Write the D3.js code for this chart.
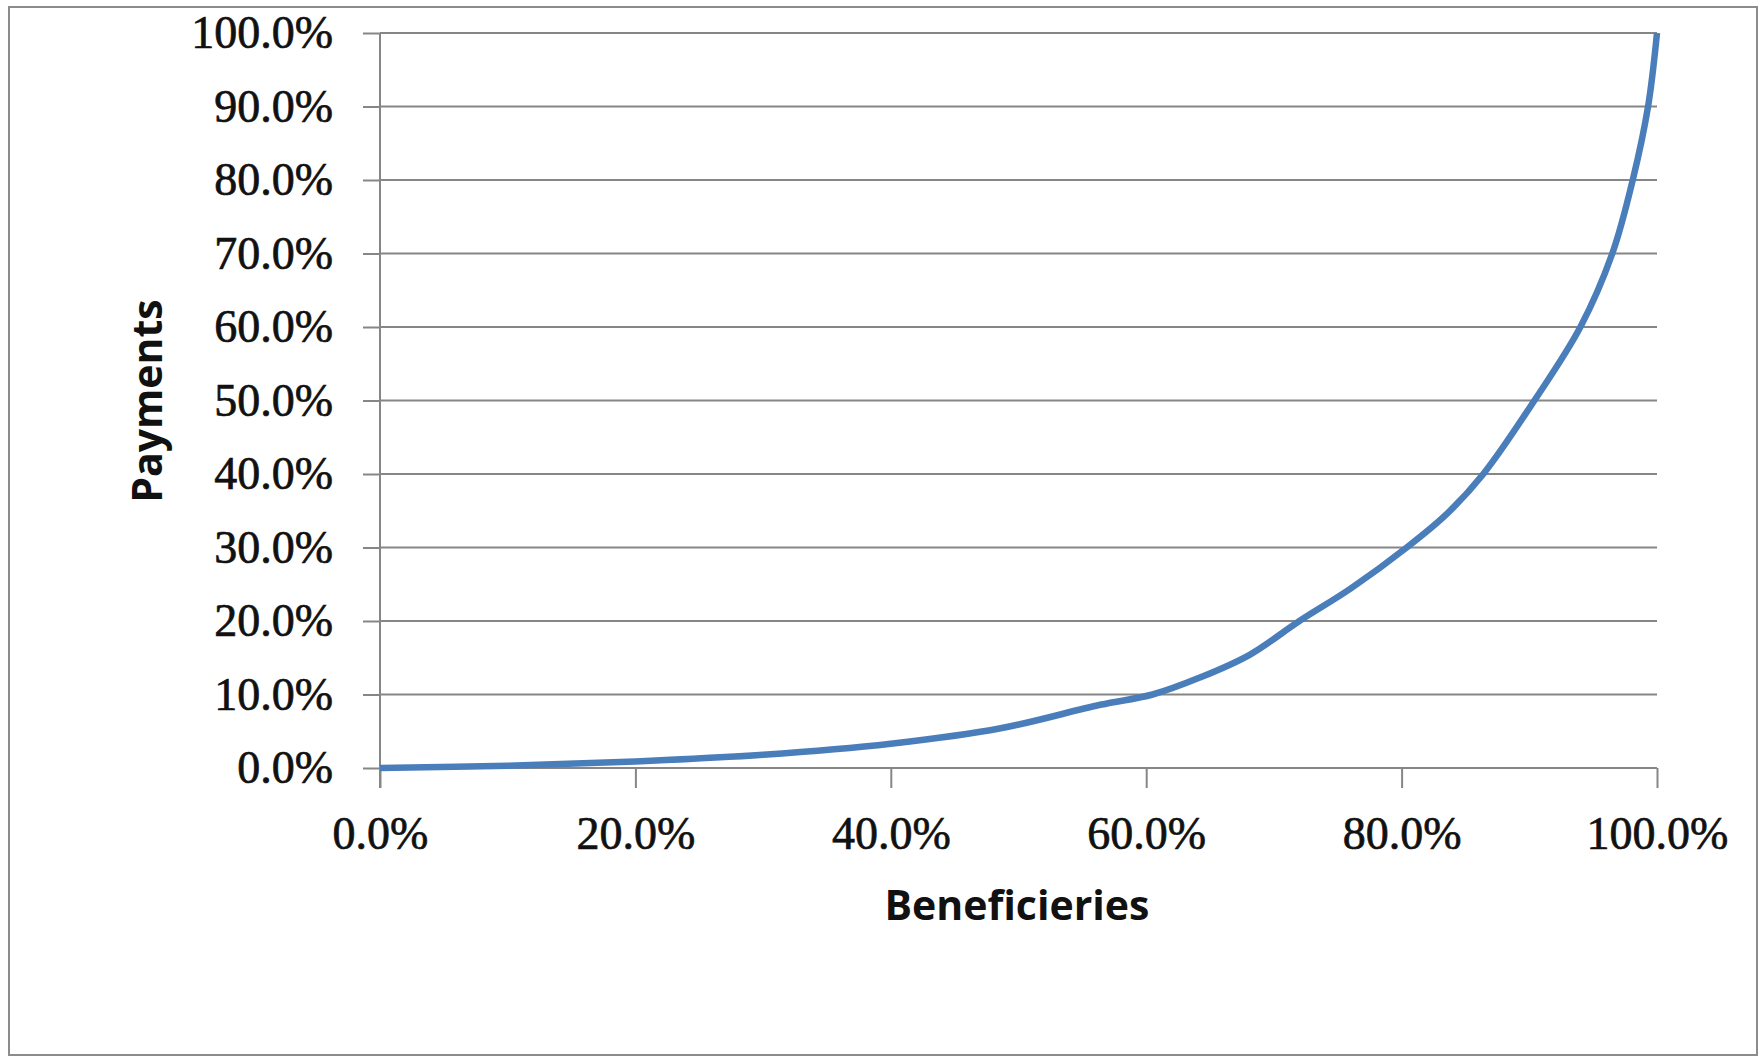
<!DOCTYPE html>
<html>
<head>
<meta charset="utf-8">
<script src="https://cdn.jsdelivr.net/npm/d3@7"></script>
<style>
  body { margin: 0; background: #fff; }
  svg { display: block; }
</style>
</head>
<body>
<script>
//============================================================
// Data (share of beneficiaries vs share of payments, %)
var beneficiaries = [0, 10, 20, 30, 40, 48.6, 56.4, 60.5, 64.2, 68.1, 72, 76, 80.4, 83.5, 86.4, 90.4, 94, 96.5, 98.1, 99.3, 100];
var payments      = [0, 0.3, 0.9, 1.8, 3.3, 5.4, 8.6, 10.0, 12.3, 15.4, 20, 24.4, 30, 34.5, 40, 50, 60, 70, 80, 90, 100];

var xTicks = [0, 20, 40, 60, 80, 100];
var yTicks = [0, 10, 20, 30, 40, 50, 60, 70, 80, 90, 100];

var xTitle = "Beneficieries";
var yTitle = "Payments";

//============================================================
// Set up SVG
var width = 1758, height = 1056;
var margin = {left: 380, right: 101, top: 33, bottom: 288};

var svg = d3.select("body")
  .append("svg")
  .attr("width", width)
  .attr("height", height);

// outer chart frame
svg.append("rect")
  .attr("x", 9)
  .attr("y", 7)
  .attr("width", width - 10)
  .attr("height", height - 8)
  .attr("fill", "#fff")
  .attr("stroke", "#8c8c8c")
  .attr("stroke-width", 2);

var x = d3.scaleLinear()
  .domain([0, 100])
  .range([margin.left, width - margin.right]);

var y = d3.scaleLinear()
  .domain([0, 100])
  .range([height - margin.bottom, margin.top]);

var fmt = function(d){ return d.toFixed(1) + "%"; };

//============================================================
// Gridlines
svg.append("g")
  .selectAll("line")
  .data(yTicks)
  .enter()
  .append("line")
  .attr("x1", x(0))
  .attr("x2", x(100))
  .attr("y1", function(d){ return y(d); })
  .attr("y2", function(d){ return y(d); })
  .attr("stroke", "#868686")
  .attr("stroke-width", 2);

//============================================================
// Axes
var yAxis = svg.append("g")
  .attr("transform", "translate(" + x(0) + ",0)")
  .call(d3.axisLeft(y).tickValues(yTicks).tickFormat(fmt).tickSize(17).tickPadding(30));

var xAxis = svg.append("g")
  .attr("transform", "translate(0," + y(0) + ")")
  .call(d3.axisBottom(x).tickValues(xTicks).tickFormat(fmt).tickSize(20).tickPadding(28));

[xAxis, yAxis].forEach(function(ax){
  ax.select(".domain").attr("stroke", "#868686").attr("stroke-width", 2);
  ax.selectAll(".tick line").attr("stroke", "#868686").attr("stroke-width", 2);
  ax.selectAll(".tick text")
    .attr("fill", "#111")
    .attr("stroke", "#111")
    .attr("stroke-width", 0.7)
    .style("font-family", "'Liberation Serif', serif")
    .style("font-size", "46px");
});

// y axis line reaches down past the x axis like the tick marks
yAxis.select(".domain").attr("d", "M0," + y(100) + "V" + (y(0) + 20));
xAxis.select(".domain").attr("d", "M" + x(0) + ",0H" + x(100));

//============================================================
// The curve
var points = beneficiaries.map(function(b, i){ return [b, payments[i]]; });

var line = d3.line()
  .x(function(d){ return x(d[0]); })
  .y(function(d){ return y(d[1]); })
  .curve(d3.curveCatmullRom.alpha(0.5));

svg.append("path")
  .datum(points)
  .attr("d", line)
  .attr("fill", "none")
  .attr("stroke", "#4a7ebb")
  .attr("stroke-width", 6.5)
  .attr("stroke-linejoin", "round");

//============================================================
// Axis titles
svg.append("text")
  .attr("x", 1017)
  .attr("y", 920)
  .attr("text-anchor", "middle")
  .style("font-family", "'Open Sans', sans-serif")
  .style("font-weight", 700)
  .style("font-size", "41px")
  .attr("fill", "#111")
  .text(xTitle);

svg.append("text")
  .attr("transform", "translate(162,401) rotate(-90)")
  .attr("text-anchor", "middle")
  .style("font-family", "'Open Sans', sans-serif")
  .style("font-weight", 700)
  .style("font-size", "41px")
  .attr("fill", "#111")
  .text(yTitle);
</script>
</body>
</html>
